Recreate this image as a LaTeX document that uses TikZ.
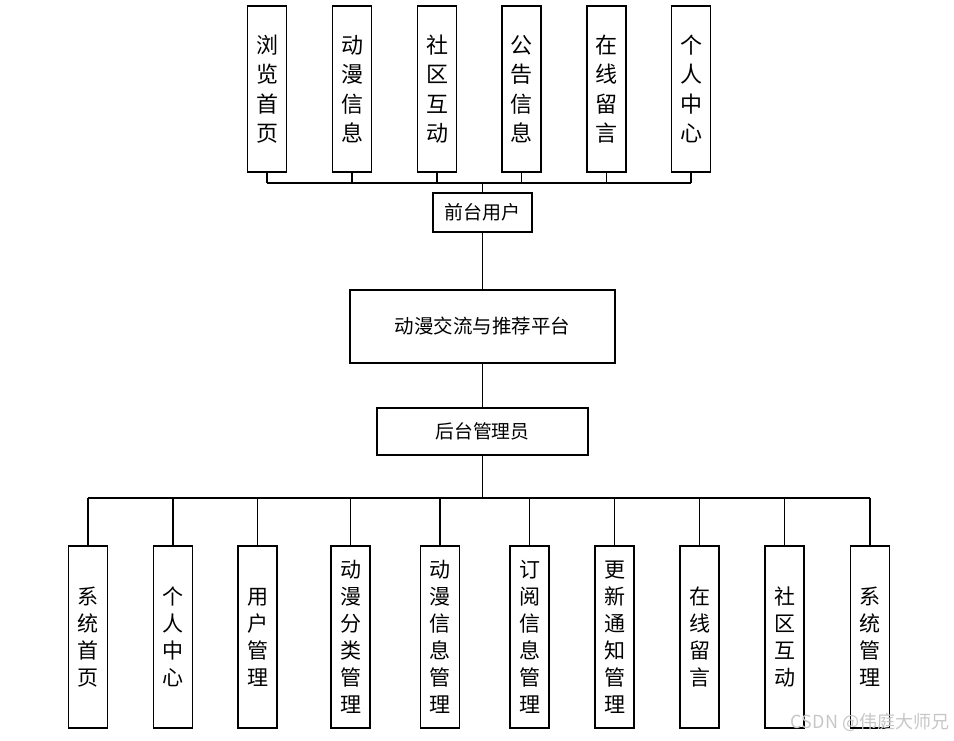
\documentclass[tikz,border=0pt]{standalone}
\usepackage{fontspec}
\setmainfont{Noto Sans CJK SC}
\begin{document}
\begin{tikzpicture}[x=1pt,y=-1pt,line width=1.8pt,
  box/.style={draw,fill=white,inner sep=0pt,align=center},
  tallbox/.style={box,minimum width=39pt,minimum height=166pt,font=\fontsize{22}{29.5}\selectfont},
  lowbox/.style={box,minimum width=39pt,minimum height=182pt,font=\fontsize{21}{27}\selectfont}]
  \useasboundingbox (0,0) rectangle (954,740);
  % front side
  \foreach \x/\t [count=\i] in {267/{浏\\览\\首\\页},352/{动\\漫\\信\\息},437/{社\\区\\互\\动},
      521.5/{公\\告\\信\\息},606.5/{在\\线\\留\\言},691/{个\\人\\中\\心}}
    \node[tallbox] (f\i) at (\x,89) {\t};
  \node[box,minimum width=99pt,minimum height=39pt,font=\fontsize{19}{21}\selectfont] (user) at (482.5,212.5) {前台用户};
  \node[box,minimum width=265pt,minimum height=73pt,font=\fontsize{19.5}{22}\selectfont] (sys) at (482.5,326.5) {动漫交流与推荐平台};
  \node[box,minimum width=211pt,minimum height=47pt,font=\fontsize{18.8}{21}\selectfont] (admin) at (482.5,431.5) {后台管理员};
  % back side
  \foreach \x/\t [count=\i] in {88/{系\\统\\首\\页},173/{个\\人\\中\\心},257.5/{用\\户\\管\\理},
      350.5/{动\\漫\\分\\类\\管\\理},440/{动\\漫\\信\\息\\管\\理},529.5/{订\\阅\\信\\息\\管\\理},
      614.5/{更\\新\\通\\知\\管\\理},699.5/{在\\线\\留\\言},784.5/{社\\区\\互\\动},870/{系\\统\\管\\理}}
    \node[lowbox] (b\i) at (\x,637) {\t};
  % connectors
  \coordinate (tb) at (482.5,183);
  \coordinate (bb) at (482.5,498);
  \foreach \i in {1,...,6}
    \draw (f\i.south) -- (f\i.south |- tb);
  \draw (f1.south |- tb) -- (f6.south |- tb);
  \draw (tb) -- (user.north);
  \draw (user.south) -- (sys.north);
  \draw (sys.south) -- (admin.north);
  \draw (admin.south) -- (bb);
  \draw (b1.north |- bb) -- (b10.north |- bb);
  \foreach \i in {1,...,10}
    \draw (b\i.north |- bb) -- (b\i.north);
  \node[anchor=east,text=black!22,font=\fontsize{18}{20}\selectfont,inner sep=0pt] (mark) at (950,722) {CSDN @伟庭大师兄};
\end{tikzpicture}
\end{document}
